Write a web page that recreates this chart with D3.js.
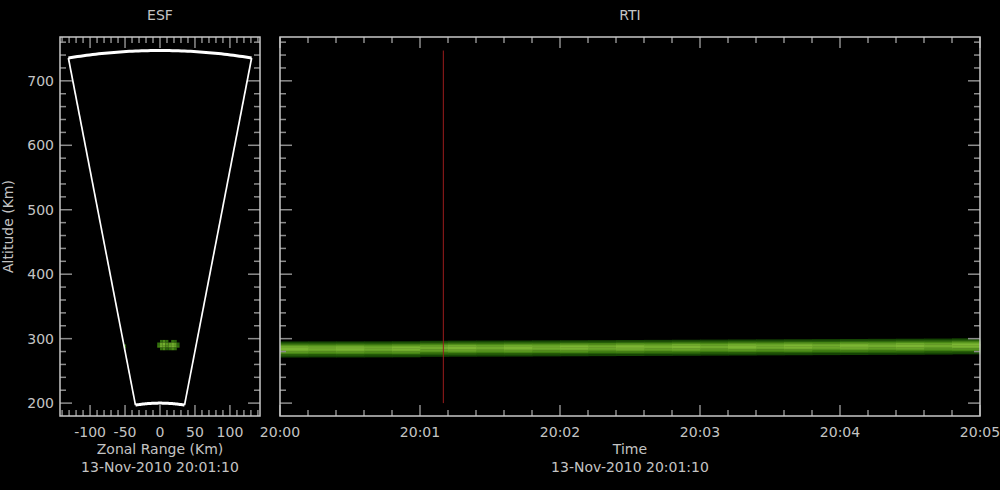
<!DOCTYPE html>
<html><head><meta charset="utf-8">
<script src="https://cdn.jsdelivr.net/npm/d3@7"></script>
<style>html,body{margin:0;padding:0;background:#000;}svg{display:block;}</style>
</head><body>
<svg id="c" width="1000" height="490"></svg>
<script>
// ---------- data ----------
const titles = ["ESF", "RTI"];
const altDomain = [180, 768];
const altMajorTicks = [200, 300, 400, 500, 600, 700];
const zonalDomain = [-143, 143];
const zonalMajorTicks = [-100, -50, 0, 50, 100];
const timeStart = "2010-11-13T20:00:00";
const timeEnd = "2010-11-13T20:05:00";
const timeTickLabels = ["20:00", "20:01", "20:02", "20:03", "20:04", "20:05"];
const cursorTime = "2010-11-13T20:01:10";
const dateLabel = "13-Nov-2010 20:01:10";
// radar fan (ESF)
const fanHalfAngleDeg = 10.1;
const fanRangeMin = 200;
const fanRangeMax = 747;
// ESF echo cells
const esfZonal = [-2, 2, 6, 10, 14, 18, 22, 26];
const esfAlt = [296, 292, 288, 284];
const esfVals = [
  [0.0, 0.4, 0.6, 0.4, 0.0, 0.4, 0.3, 0.0],
  [0.4, 0.85, 0.95, 0.7, 0.75, 0.9, 0.75, 0.3],
  [0.5, 0.9, 0.85, 0.65, 0.85, 0.95, 0.8, 0.4],
  [0.0, 0.4, 0.6, 0.3, 0.4, 0.6, 0.4, 0.0]
];
const esfEdgeZonal = [-50];
const esfEdgeAlt = [288];
const esfEdgeVals = [0.4];
// RTI band: one column every 12 s
const rtiSeconds = [0,12,24,36,48,60,72,84,96,108,120,132,144,156,168,180,192,204,216,228,240,252,264,276,288];
const rtiCenter = [283.5,283.6,283.6,283.7,283.8,284.6,284.8,284.9,285.0,285.2,285.4,285.6,285.8,286.0,286.2,286.4,286.6,286.8,287.0,287.2,287.4,287.6,287.8,288.0,288.4];
const rtiGain = [1.0,0.92,1.0,0.9,1.0,0.92,1.0,0.9,1.0,0.92,1.0,0.9,1.0,0.92,1.0,0.9,1.0,0.92,1.0,0.9,1.0,0.92,1.0,0.9,1.0];
// intensity profile across the band, top (high alt) to bottom, 2.2 km per row
const rtiProfileOffsets = [11, 8.8, 6.6, 4.4, 2.2, 0, -2.2, -4.4, -6.6, -8.8, -11];
const rtiProfile = [0.12, 0.3, 0.62, 0.88, 1.0, 1.0, 0.9, 0.75, 0.55, 0.3, 0.12];

// ---------- layout ----------
const svg = d3.select("#c");
const yTop = 37, yBot = 416;
const esf = {x0: 60, x1: 260};
const rti = {x0: 280, x1: 980};
const frameCol = "#c8c8c8", tickCol = "#8c8c8c", textCol = "#c4c4c4";
const font = "DejaVu Sans, sans-serif";

const y = d3.scaleLinear().domain(altDomain).range([yBot, yTop]);
const xz = d3.scaleLinear().domain(zonalDomain).range([esf.x0, esf.x1]);
const parse = d3.isoParse;
const xt = d3.scaleTime().domain([parse(timeStart), parse(timeEnd)]).range([rti.x0, rti.x1]);
const color = d3.scaleLinear().domain([0, 0.5, 1]).range(["#083400", "#3e7e10", "#7cb634"]).clamp(true);

const g = svg.append("g");

function frameAndTicks(x0, x1, xTickVals, xMajorVals, xs) {
  const yMinor = d3.range(200, 768, 20);
  yMinor.forEach(v => {
    const len = altMajorTicks.includes(v) ? 12 : 6;
    g.append("line").attr("x1", x0).attr("x2", x0 + len).attr("y1", y(v)).attr("y2", y(v)).attr("stroke", tickCol).attr("stroke-width", 1.5);
    g.append("line").attr("x1", x1).attr("x2", x1 - len).attr("y1", y(v)).attr("y2", y(v)).attr("stroke", tickCol).attr("stroke-width", 1.5);
  });
  xTickVals.forEach(v => {
    const isMaj = xMajorVals.some(m => +m === +v);
    const len = isMaj ? 11 : 6;
    const px = xs(v);
    g.append("line").attr("x1", px).attr("x2", px).attr("y1", yTop).attr("y2", yTop + len).attr("stroke", tickCol).attr("stroke-width", 1.5);
    g.append("line").attr("x1", px).attr("x2", px).attr("y1", yBot).attr("y2", yBot - len).attr("stroke", tickCol).attr("stroke-width", 1.5);
  });
  g.append("rect").attr("x", x0).attr("y", yTop).attr("width", x1 - x0).attr("height", yBot - yTop)
    .attr("fill", "none").attr("stroke", frameCol).attr("stroke-width", 1.5);
}

// ---------- ESF panel ----------
const esfCellW = Math.abs(xz(4) - xz(0)), esfCellH = Math.abs(y(0) - y(4));
esfVals.forEach((row, i) => row.forEach((v, j) => {
  if (v <= 0) return;
  g.append("rect").attr("x", xz(esfZonal[j]) - esfCellW / 2).attr("y", y(esfAlt[i]) - esfCellH / 2)
    .attr("width", esfCellW).attr("height", esfCellH).attr("fill", color(v));
}));
esfEdgeVals.forEach((v, k) => {
  g.append("rect").attr("x", xz(esfEdgeZonal[k]) - 1).attr("y", y(esfEdgeAlt[k]) - 2)
    .attr("width", 2).attr("height", 4).attr("fill", color(v));
});

const th = fanHalfAngleDeg * Math.PI / 180;
const arcPts = r => d3.range(-th, th + 1e-9, th / 30).map(a => [xz(r * Math.sin(a)), y(r * Math.cos(a))]);
const line = d3.line();
g.append("path").attr("d", line(arcPts(fanRangeMax))).attr("fill", "none").attr("stroke", "#fff").attr("stroke-width", 3);
g.append("path").attr("d", line(arcPts(fanRangeMin))).attr("fill", "none").attr("stroke", "#fff").attr("stroke-width", 3);
[-th, th].forEach(a => {
  g.append("line")
    .attr("x1", xz(fanRangeMin * Math.sin(a))).attr("y1", y(fanRangeMin * Math.cos(a)))
    .attr("x2", xz(fanRangeMax * Math.sin(a))).attr("y2", y(fanRangeMax * Math.cos(a)))
    .attr("stroke", "#fff").attr("stroke-width", 1.7);
});

frameAndTicks(esf.x0, esf.x1, d3.range(-140, 141, 10), zonalMajorTicks, xz);

// ---------- RTI panel ----------
const t0 = parse(timeStart);
const colW = xt(new Date(+t0 + 12000)) - xt(t0);
const rowH = Math.abs(y(0) - y(2.2));
rtiSeconds.forEach((s, i) => {
  rtiProfile.forEach((p, k) => {
    const alt = rtiCenter[i] + rtiProfileOffsets[k];
    g.append("rect").attr("x", xt(new Date(+t0 + s * 1000))).attr("y", y(alt) - rowH / 2)
      .attr("width", colW + 0.5).attr("height", rowH + 0.4)
      .attr("fill", color(p * rtiGain[i]));
  });
});

const ct = parse(cursorTime);
g.append("line").attr("x1", xt(ct)).attr("x2", xt(ct)).attr("y1", y(fanRangeMin)).attr("y2", y(fanRangeMax))
  .attr("stroke", "#9a1c1c").attr("stroke-width", 1);

const timeTicks = d3.range(0, 301, 12).map(s => new Date(+t0 + s * 1000));
const timeMajors = d3.range(0, 301, 60).map(s => new Date(+t0 + s * 1000));
frameAndTicks(rti.x0, rti.x1, timeTicks, timeMajors, xt);

// ---------- text ----------
const fs = 14;
const txt = (x, yy, s, anchor = "middle") => g.append("text").attr("x", x).attr("y", yy).text(s)
  .attr("fill", textCol).attr("font-family", font).attr("font-size", fs).attr("text-anchor", anchor);

txt((esf.x0 + esf.x1) / 2, 20, titles[0]);
txt((rti.x0 + rti.x1) / 2, 20, titles[1]);
altMajorTicks.forEach(v => txt(54, y(v) + 5, String(v), "end"));
zonalMajorTicks.forEach(v => txt(xz(v), 437, String(v)));
timeMajors.forEach((d, i) => txt(xt(d), 437, timeTickLabels[i]));
txt((esf.x0 + esf.x1) / 2, 454, "Zonal Range (Km)");
txt((esf.x0 + esf.x1) / 2, 472, dateLabel);
txt((rti.x0 + rti.x1) / 2, 454, "Time");
txt((rti.x0 + rti.x1) / 2, 472, dateLabel);
g.append("text").attr("transform", "translate(13," + ((yTop + yBot) / 2) + ") rotate(-90)")
  .attr("text-anchor", "middle").attr("fill", textCol).attr("font-family", font).attr("font-size", fs)
  .text("Altitude (Km)");
</script>
</body></html>
